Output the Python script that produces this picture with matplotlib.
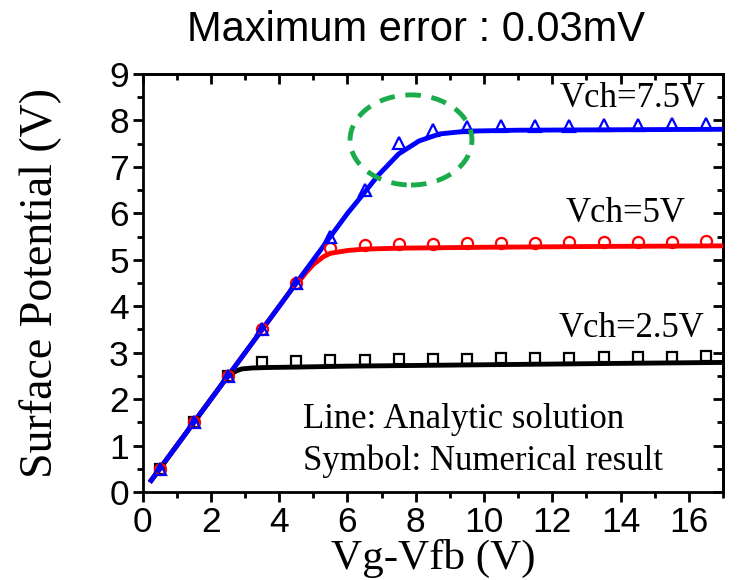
import numpy as np
import matplotlib
matplotlib.use('Agg')
import matplotlib.pyplot as plt
from matplotlib.patches import Ellipse
from matplotlib.ticker import MultipleLocator

# numerical result (symbols)
x_sym = [0.5, 1.5, 2.5, 3.5, 4.5, 5.5, 6.5, 7.5, 8.5, 9.5, 10.5, 11.5, 12.5, 13.5, 14.5, 15.5, 16.5]
sym_25 = [0.5, 1.5, 2.5, 2.80, 2.82, 2.84, 2.85, 2.86, 2.87, 2.87, 2.88, 2.89, 2.89, 2.90, 2.90, 2.91, 2.92]
sym_5 = [0.5, 1.5, 2.5, 3.5, 4.5, 5.25, 5.31, 5.33, 5.35, 5.36, 5.37, 5.37, 5.38, 5.38, 5.39, 5.39, 5.40]
sym_75 = [0.5, 1.5, 2.5, 3.5, 4.5, 5.5, 6.5, 7.52, 7.80, 7.86, 7.87, 7.88, 7.89, 7.90, 7.91, 7.92, 7.93]

# analytic solution (lines)
x_l25 = [0.25, 2.45, 2.6, 2.75, 2.9, 3.2, 3.6, 4.5, 6.0, 10.0, 14.0, 17.0]
y_l25 = [0.25, 2.45, 2.55, 2.61, 2.65, 2.67, 2.68, 2.69, 2.71, 2.74, 2.77, 2.79]
x_l5 = [0.25, 4.5, 4.65, 4.8, 5.0, 5.3, 5.5, 6.0, 6.5, 7.5, 10.0, 14.0, 17.0]
y_l5 = [0.25, 4.5, 4.6, 4.74, 4.9, 5.07, 5.14, 5.20, 5.23, 5.25, 5.27, 5.29, 5.30]
x_l75 = [0.25, 6.0, 6.4, 6.9, 7.5, 8.1, 8.7, 9.5, 11.0, 14.0, 17.0]
y_l75 = [0.25, 6.0, 6.36, 6.82, 7.28, 7.56, 7.71, 7.77, 7.79, 7.80, 7.81]

labels = ['Vch=2.5V', 'Vch=5V', 'Vch=7.5V']

plt.rcParams['font.family'] = 'Liberation Sans'

fig = plt.figure(figsize=(7.37, 5.80), dpi=100)
ax = fig.add_axes([0.1936, 0.1517, 0.7874, 0.7207])

ax.plot(x_l25, y_l25, color='black', lw=3.5, zorder=3)
ax.plot(x_l5, y_l5, color='red', lw=3.5, zorder=4)
ax.plot(x_l75, y_l75, color='blue', lw=3.5, zorder=5)

ax.plot(x_sym, sym_25, 's', ms=7, mfc='none', mec='black', mew=1.6, zorder=6)
ax.plot(x_sym, sym_5, 'o', ms=8, mfc='none', mec='red', mew=1.6, zorder=6)
ax.plot(x_sym, sym_75, '^', ms=8.5, mfc='none', mec='blue', mew=1.6, zorder=7)

ax.add_patch(Ellipse((7.86, 7.58), 3.57, 1.94, fill=False, ec='#1aab4b', lw=3.5,
                     ls=(0, (3.2, 2.2)), zorder=8))

serif = 'Liberation Serif'
ax.text(16.5, 8.29, labels[2], ha='right', va='baseline', family=serif, fontsize=25)
ax.text(15.9, 5.82, labels[1], ha='right', va='baseline', family=serif, fontsize=25)
ax.text(16.45, 3.34, labels[0], ha='right', va='baseline', family=serif, fontsize=25)
ax.text(4.71, 1.38, 'Line: Analytic solution', va='baseline', family=serif, fontsize=25)
ax.text(4.71, 0.47, 'Symbol: Numerical result', va='baseline', family=serif, fontsize=25)

ax.set_xlim(0, 17)
ax.set_ylim(0, 9)
ax.xaxis.set_major_locator(MultipleLocator(2))
ax.xaxis.set_minor_locator(MultipleLocator(1))
ax.yaxis.set_major_locator(MultipleLocator(1))
ax.yaxis.set_minor_locator(MultipleLocator(0.5))
ax.tick_params(which='major', direction='out', length=7, width=2, labelsize=25.5, pad=3)
ax.tick_params(which='minor', direction='out', length=4, width=2)
for s in ax.spines.values():
    s.set_linewidth(2)

top = ax.secondary_xaxis('top')
top.xaxis.set_major_locator(MultipleLocator(2))
top.xaxis.set_minor_locator(MultipleLocator(1))
top.tick_params(which='major', direction='in', length=7, width=2, labeltop=False)
top.tick_params(which='minor', direction='in', length=4, width=2)
top.spines['top'].set_linewidth(2)
right = ax.secondary_yaxis('right')
right.yaxis.set_major_locator(MultipleLocator(1))
right.yaxis.set_minor_locator(MultipleLocator(0.5))
right.tick_params(which='major', direction='in', length=7, width=2, labelright=False)
right.tick_params(which='minor', direction='in', length=4, width=2)
right.spines['right'].set_linewidth(2)

ax.set_xlabel('Vg-Vfb (V)', family=serif, fontsize=31)
ax.xaxis.set_label_coords(0.5, -0.112, transform=ax.transAxes)
ax.xaxis.label.set_va('top')
ax.set_ylabel('Surface Potential (V)', family=serif, fontsize=33)
ax.yaxis.set_label_coords(-0.139, 0.5, transform=ax.transAxes)
ax.yaxis.label.set_va('bottom')

fig.text(416 / 737, 1 - 30 / 580, 'Maximum error : 0.03mV', ha='center', va='center', fontsize=30)

fig.savefig('out.png', dpi=100)
